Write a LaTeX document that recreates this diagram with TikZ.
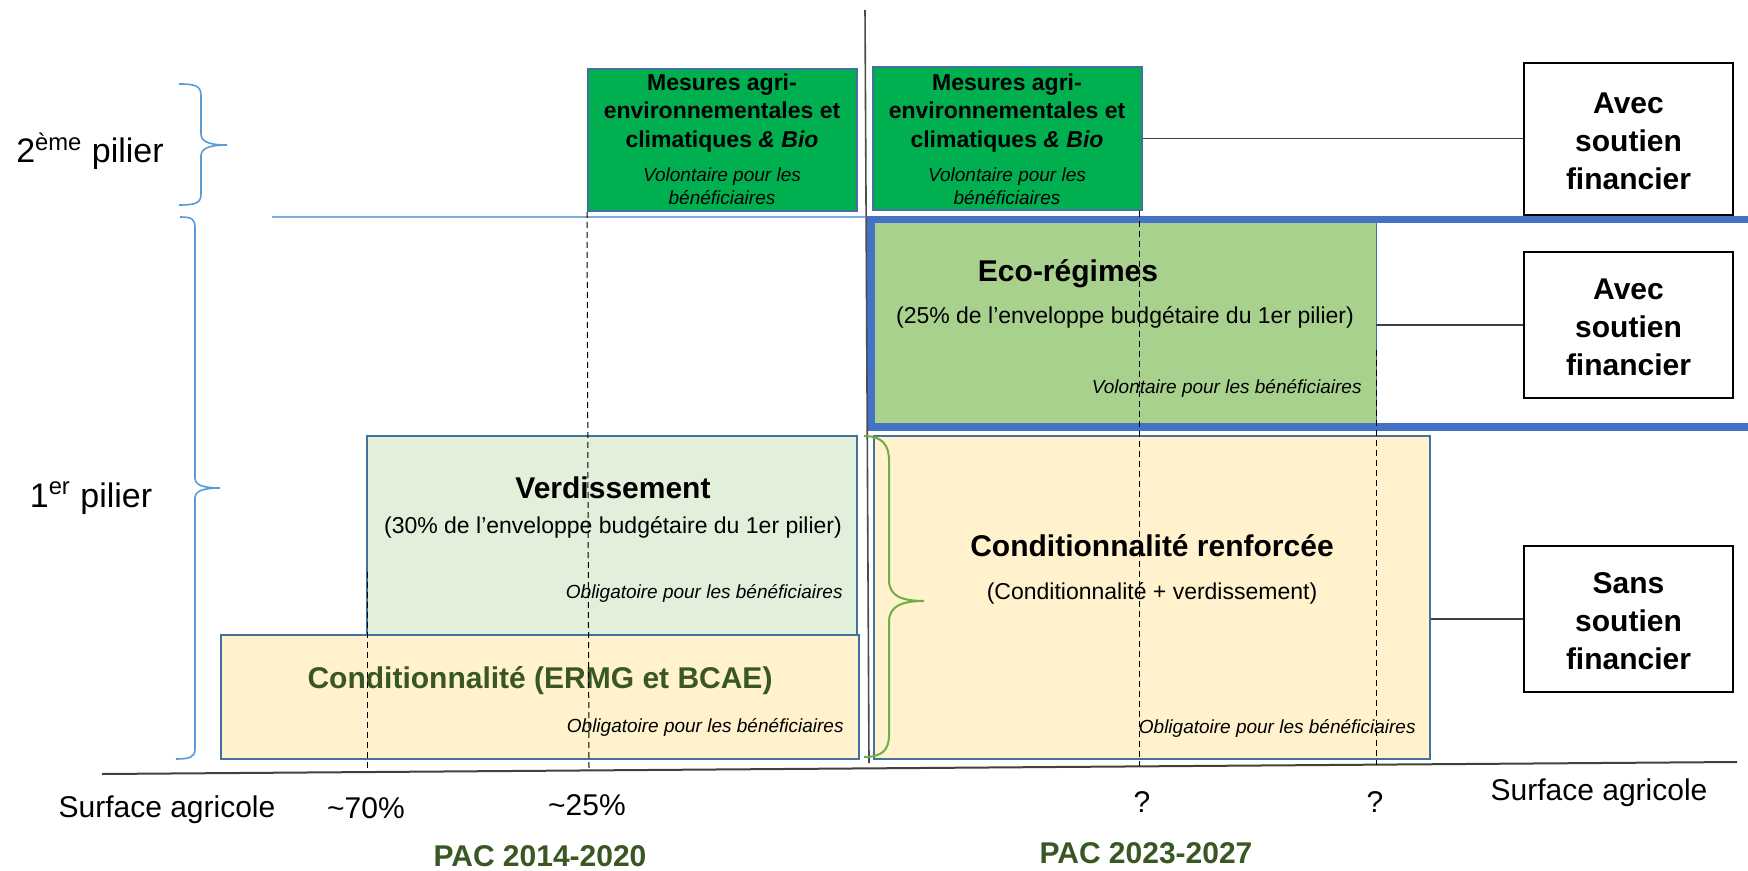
\documentclass[tikz,border=0pt]{standalone}
\usepackage{fontspec}
\setmainfont{Liberation Sans}
\usetikzlibrary{fit}
\definecolor{boxblue}{HTML}{41719C}
\definecolor{framblue}{HTML}{4472C4}
\definecolor{bracblue}{HTML}{5B9BD5}
\definecolor{maegreen}{HTML}{00B050}
\definecolor{ecogreen}{HTML}{A9D18E}
\definecolor{verdgreen}{HTML}{E2EFDA}
\definecolor{condyel}{HTML}{FFF2CC}
\definecolor{txtgreen}{HTML}{385723}
\definecolor{bracegreen}{HTML}{70AD47}
\begin{document}
\begin{tikzpicture}[x=0.5pt,y=-0.5pt,
  boxb/.style={draw=boxblue, line width=1pt, inner sep=0pt},
  rbox/.style={draw=black, line width=1.2pt, inner sep=0pt},
  rtxt/.style={inner sep=0pt, align=center, yshift=-1pt,
     font=\bfseries\fontsize{15}{19}\selectfont},
  txt/.style={inner sep=0pt, anchor=base},
  hb/.style={txt, font=\bfseries\fontsize{11.5}{14}\selectfont},
  hi/.style={txt, font=\itshape\fontsize{9.5}{11}\selectfont},
  ttl/.style={txt, font=\bfseries\fontsize{15}{18}\selectfont},
  subt/.style={txt, font=\fontsize{11.5}{14}\selectfont},
  lab/.style={txt, font=\fontsize{15}{18}\selectfont},
  pil/.style={txt, font=\fontsize{17}{20}\selectfont},
  pac/.style={txt, font=\bfseries\fontsize{15}{18}\selectfont, text=txtgreen},
  conn/.style={draw=black!75, line width=0.6pt},
  vdash/.style={draw=black, line width=0.5pt, dash pattern=on 3pt off 2pt},
  brc/.style={line width=0.8pt}
]
\useasboundingbox[fill=white] (0,0) rectangle (1748,871);

% thin blue separator
\coordinate (sepA) at (272,217);
\coordinate (sepB) at (865,217);
\draw[bracblue!80, line width=0.8pt] (sepA) -- (sepB);

% eco-regimes box and frame
\node[fill=ecogreen, inner sep=0pt, fit={(872,223) (1376,423)}] (eco) {};
\draw[boxblue, line width=0.8pt] (eco.north east) -- (eco.south east);
\draw[framblue, line width=3.75pt] (1752,219.5) -- (871,219.5) -- (871,427) -- (1752,427);

% boxes
\node[boxb, fill=verdgreen, fit={(367,436) (857,635)}] (verd) {};
\node[boxb, fill=condyel, fit={(221,635) (859,759)}] (cond) {};
\node[boxb, fill=condyel, fit={(874,436) (1430,759)}] (cr) {};
\node[boxb, fill=maegreen, fit={(588,69) (857,211)}] (mae1) {};
\node[boxb, fill=maegreen, fit={(873,67) (1142,210)}] (mae2) {};

% right boxes
\node[rbox, fit={(1524,63) (1733,215)}] (r1) {};
\node[rbox, fit={(1524,252) (1733,398)}] (r2) {};
\node[rbox, fit={(1524,546) (1733,692)}] (r3) {};
\node[rtxt] (r1t) at (r1.center) {Avec\\soutien\\financier};
\node[rtxt] (r2t) at (r2.center) {Avec\\soutien\\financier};
\node[rtxt] (r3t) at (r3.center) {Sans\\soutien\\financier};

% vertical divider and axis
\coordinate (vtop) at (865,10);
\coordinate (vbot) at (869,763);
\draw[black!70, line width=0.8pt] (vtop) -- (vbot);
\coordinate (axL) at (102,774);
\coordinate (axR) at (1737,762);
\draw[black!75, line width=1pt] (axL) -- (axR);

% braces
\draw[bracblue, brc] (179,84) .. controls (196,84) and (201,86) .. (201,96) -- (201,134)
  .. controls (201,142) and (210,145) .. (227,145)
  .. controls (210,145) and (201,148) .. (201,156) -- (201,194)
  .. controls (201,203) and (196,205) .. (179,205);
\draw[bracblue, brc] (180,217) .. controls (192,217) and (195,219) .. (195,228) -- (195,478)
  .. controls (195,485) and (203,488) .. (220,488)
  .. controls (203,488) and (195,491) .. (195,498) -- (195,749)
  .. controls (195,757) and (190,759) .. (176,759);
\draw[bracegreen, line width=1pt] (864,436) .. controls (882,436) and (889,445) .. (889,460) -- (889,580)
  .. controls (889,595) and (900,601) .. (924,601)
  .. controls (900,601) and (889,607) .. (889,622) -- (889,735)
  .. controls (889,750) and (882,757) .. (864,757);

% pilier labels
\node[pil] (p2) at (90,163) {2\textsuperscript{ème} pilier};
\node[pil] (p1) at (91,507) {1\textsuperscript{er} pilier};

% MAE texts
\node[hb] (m1a) at (722,91) {Mesures agri-};
\node[hb] (m1b) at (722,119) {environnementales et};
\node[hb] (m1c) at (722,148) {climatiques \textit{\& Bio}};
\node[hi] (m1d) at (722,182) {Volontaire pour les};
\node[hi] (m1e) at (722,205) {bénéficiaires};
\node[hb] (m2a) at (1007,91) {Mesures agri-};
\node[hb] (m2b) at (1007,119) {environnementales et};
\node[hb] (m2c) at (1007,148) {climatiques \textit{\& Bio}};
\node[hi] (m2d) at (1007,182) {Volontaire pour les};
\node[hi] (m2e) at (1007,205) {bénéficiaires};

% Eco texts
\node[ttl] (e1) at (1068,282) {Eco-régimes};
\node[subt] (e2) at (1125,323) {(25\% de l’enveloppe budgétaire du 1er pilier)};
\node[hi, anchor=base east] (e3) at (1362,393) {Volontaire pour les bénéficiaires};

% Verdissement texts
\node[ttl] (v1) at (613,498) {Verdissement};
\node[subt] (v2) at (613,533) {(30\% de l’enveloppe budgétaire du 1er pilier)};
\node[hi, anchor=base east] (v3) at (843,598) {Obligatoire pour les bénéficiaires};

% Conditionnalite texts
\node[ttl, text=txtgreen] (c1) at (540,688) {Conditionnalité (ERMG et BCAE)};
\node[hi, anchor=base east] (c2) at (844,732) {Obligatoire pour les bénéficiaires};

% Conditionnalite renforcee texts
\node[ttl] (cr1) at (1152,556) {Conditionnalité renforcée};
\node[subt] (cr2) at (1152,599) {(Conditionnalité + verdissement)};
\node[hi, anchor=base east] (cr3) at (1416,733) {Obligatoire pour les bénéficiaires};

% axis labels
\node[lab] (sa1) at (167,817) {Surface agricole};
\node[lab] (t70) at (366,818) {\textasciitilde70\%};
\node[lab] (t25) at (587,815) {\textasciitilde25\%};
\node[lab] (q1) at (1142,812) {?};
\node[lab] (q2) at (1375,812) {?};
\node[lab] (sa2) at (1599,800) {Surface agricole};
\node[pac] (pac1) at (540,866) {PAC 2014-2020};
\node[pac] (pac2) at (1146,863) {PAC 2023-2027};

% dashed guides
\coordinate (d1t) at (367,572);  \coordinate (d1b) at (367,772);
\coordinate (d2b) at (589,770);
\coordinate (d3b) at (1139,766);
\coordinate (d4t) at (1376,350); \coordinate (d4b) at (1376,765);
\draw[vdash] (d1t) -- (d1b);
\draw[vdash] (mae1.south west) -- (d2b);
\draw[vdash] (mae2.south east -| d3b) -- (d3b);
\draw[vdash] (d4t) -- (d4b);

% connectors
\draw[conn] (mae2.east) -- (mae2.east -| r1.west);
\draw[conn] (eco.east |- r2.west) -- (r2.west);
\draw[conn] (cr.east |- r3.west) -- (r3.west);
\end{tikzpicture}
\end{document}
